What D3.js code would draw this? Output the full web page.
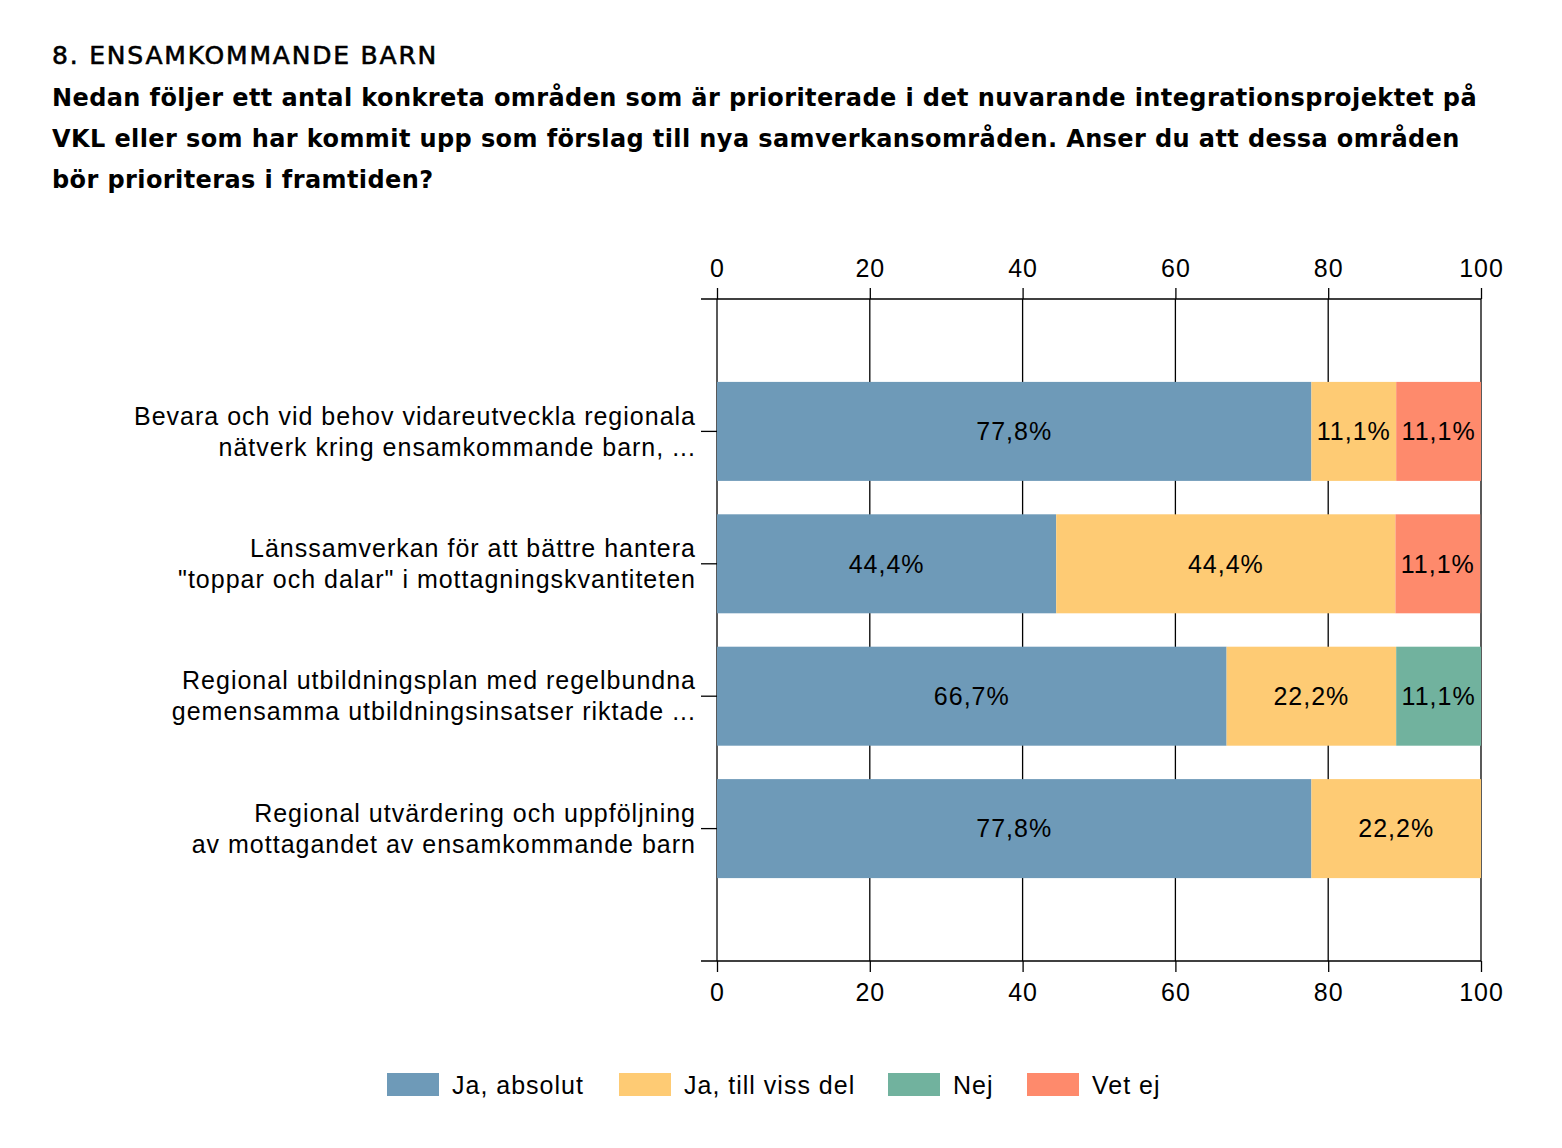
<!DOCTYPE html>
<html><head><meta charset="utf-8">
<script src="https://cdn.jsdelivr.net/npm/d3@7"></script>
<style>body{margin:0;background:#fff}</style>
</head><body>
<svg id="c" width="1562" height="1148"></svg>
<script>
const titleLines = ["8. ENSAMKOMMANDE BARN"];
const questionLines = [
  "Nedan följer ett antal konkreta områden som är prioriterade i det nuvarande integrationsprojektet på",
  "VKL eller som har kommit upp som förslag till nya samverkansområden. Anser du att dessa områden",
  "bör prioriteras i framtiden?"
];
const categories = [
  ["Bevara och vid behov vidareutveckla regionala", "nätverk kring ensamkommande barn, ..."],
  ["Länssamverkan för att bättre hantera", "\"toppar och dalar\" i mottagningskvantiteten"],
  ["Regional utbildningsplan med regelbundna", "gemensamma utbildningsinsatser riktade ..."],
  ["Regional utvärdering och uppföljning", "av mottagandet av ensamkommande barn"]
];
const seriesNames = ["Ja, absolut", "Ja, till viss del", "Nej", "Vet ej"];
const seriesColors = ["#6E9AB8", "#FECB74", "#71B29E", "#FE8A6C"];
const jaAbsolut   = [77.8, 44.4, 66.7, 77.8];
const jaTillViss  = [11.1, 44.4, 22.2, 22.2];
const nej         = [0, 0, 11.1, 0];
const vetEj       = [11.1, 11.1, 0, 0];
const tickValues  = [0, 20, 40, 60, 80, 100];

(function () {
const svg = d3.select("#c");
const font = "'Liberation Sans', Arial, sans-serif";
const tfont = "'DejaVu Sans', Verdana, sans-serif";
const fs = 25, ls = 1;

// Titles
svg.append("text").attr("x", 52).attr("y", 64).attr("font-family", tfont)
  .attr("font-size", 25).attr("letter-spacing", 1.8).attr("fill", "#000")
  .attr("stroke", "#000").attr("stroke-width", 0.6).text(titleLines[0]);
questionLines.forEach((l, i) => {
  svg.append("text").attr("x", 52).attr("y", 106 + i * 41).attr("font-family", tfont)
    .attr("font-size", 24).attr("letter-spacing", 0.4).attr("font-weight", "bold").attr("fill", "#000").text(l);
});

const pl = 717, pr = 1481, pt = 299, pb = 961;
const x = d3.scaleLinear().domain([0, 100]).range([pl, pr]);
const idx = categories.map((d, i) => i);
const y = d3.scalePoint().domain(idx).range([pt, pb]).padding(1);
const barH = 99;

// gridlines
svg.append("g").selectAll("line").data(tickValues).join("line")
  .attr("x1", d => x(d)).attr("x2", d => x(d)).attr("y1", pt).attr("y2", pb)
  .attr("stroke", "#000").attr("stroke-width", 1.3);

// axes
const axTop = svg.append("g").attr("transform", `translate(0,${pt})`)
  .call(d3.axisTop(x).tickValues(tickValues).tickSize(11).tickPadding(11).tickSizeOuter(0));
const axBot = svg.append("g").attr("transform", `translate(0,${pb})`)
  .call(d3.axisBottom(x).tickValues(tickValues).tickSize(11).tickPadding(11).tickSizeOuter(0));
[axTop, axBot].forEach(a => {
  a.select(".domain").remove();
  a.selectAll("line").attr("stroke", "#000").attr("stroke-width", 1.3);
  a.selectAll("text").attr("font-family", font).attr("font-size", fs)
    .attr("letter-spacing", ls).attr("fill", "#000");
  a.append("line").attr("x1", 701).attr("x2", pr).attr("y1", 0).attr("y2", 0)
    .attr("stroke", "#000").attr("stroke-width", 1.3);
});

// y ticks
svg.append("g").selectAll("line").data(idx).join("line")
  .attr("x1", 701).attr("x2", pl).attr("y1", d => y(d)).attr("y2", d => y(d))
  .attr("stroke", "#000").attr("stroke-width", 1.3);

// stacked bars
const rows = idx.map(i => ({ i, v: [jaAbsolut[i], jaTillViss[i], nej[i], vetEj[i]] }));
const segs = [];
rows.forEach(r => {
  let acc = 0;
  r.v.forEach((v, s) => { segs.push({ i: r.i, s, x0: acc, x1: acc + v, v }); acc += v; });
});
svg.append("g").selectAll("rect").data(segs.filter(d => d.v > 0)).join("rect")
  .attr("x", d => x(d.x0)).attr("width", d => x(Math.min(d.x1, 100)) - x(d.x0))
  .attr("y", d => y(d.i) - barH / 2).attr("height", barH)
  .attr("fill", d => seriesColors[d.s]);
svg.append("g").selectAll("text").data(segs.filter(d => d.v > 0)).join("text")
  .attr("x", d => (x(d.x0) + x(Math.min(d.x1, 100))) / 2).attr("y", d => y(d.i))
  .attr("dy", "0.35em").attr("text-anchor", "middle")
  .attr("font-family", font).attr("font-size", fs).attr("letter-spacing", ls).attr("fill", "#000")
  .text(d => d.v.toFixed(1).replace(".", ",") + "%");

// category labels
categories.forEach((lines, i) => {
  lines.forEach((l, k) => {
    svg.append("text").attr("x", 696).attr("y", y(i) - 15.5 + k * 31).attr("dy", "0.35em")
      .attr("text-anchor", "end").attr("font-family", font).attr("font-size", fs)
      .attr("letter-spacing", ls).attr("fill", "#000").text(l);
  });
});

// legend
const legX = [387, 619, 888, 1027];
const lg = svg.append("g");
seriesNames.forEach((n, i) => {
  lg.append("rect").attr("x", legX[i]).attr("y", 1073).attr("width", 52).attr("height", 23)
    .attr("fill", seriesColors[i]);
  lg.append("text").attr("x", legX[i] + 65).attr("y", 1085).attr("dy", "0.35em")
    .attr("font-family", font).attr("font-size", fs).attr("letter-spacing", ls)
    .attr("fill", "#000").text(n);
});
})();
</script>
</body></html>
